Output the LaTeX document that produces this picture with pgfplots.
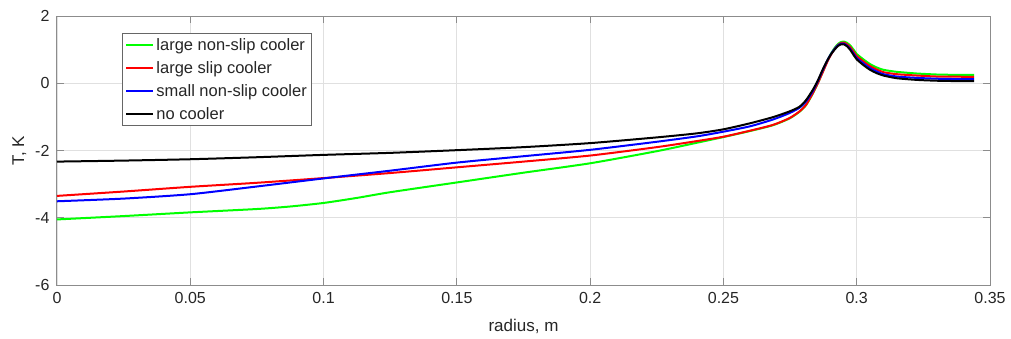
\documentclass[border=0pt]{standalone}
\usepackage{fontspec}
\setmainfont{Liberation Sans}
\usepackage{pgfplots}
\pgfplotsset{compat=1.18}
\begin{document}
\begin{tikzpicture}
\begin{axis}[
  scale only axis, width=933pt, height=269pt,
  xmin=0, xmax=0.35, ymin=-6, ymax=2,
  xtick={0,0.05,0.1,0.15,0.2,0.25,0.3,0.35},
  xticklabels={0,0.05,0.1,0.15,0.2,0.25,0.3,0.35},
  ytick={-6,-4,-2,0,2},
  yticklabels={-6,-4,-2,0,2},
  grid=major, major grid style={color=black!12, line width=0.8pt},
  tick align=inside, major tick length=7pt,
  axis line style={color=black!45, line width=1pt},
  tick style={color=black!45, line width=1pt},
  ticklabel style={font=\fontsize{16}{19}\selectfont, text=black!85},
  xticklabel style={yshift=-4pt},
  yticklabel style={xshift=-4pt},
  /pgf/number format/assume math mode=true,
  xlabel={radius, m}, ylabel={T, K},
  label style={font=\fontsize{17}{20}\selectfont, text=black!85},
  xlabel style={yshift=-8pt},
  ylabel style={yshift=2pt},
  legend style={at={(0.0697,0.937)}, anchor=north west, draw=black!60, line width=0.8pt,
    font=\fontsize{16.5}{19}\selectfont, text=black!85, inner sep=3pt, row sep=5.5pt},
  legend cell align=left,
  legend image code/.code={\draw[#1] (0pt,0pt) -- (27pt,0pt);},
  every axis plot/.append style={line width=2pt, smooth, tension=0.4, mark=none},
]
\addplot[color={rgb,1:red,0;green,1;blue,0}] coordinates {
(0,-4.05) (0.025,-3.95) (0.05,-3.84) (0.075,-3.74) (0.0875,-3.665) (0.1,-3.56)
(0.1125,-3.41) (0.125,-3.24) (0.15,-2.95) (0.175,-2.66) (0.2,-2.38) (0.225,-2.02)
(0.24,-1.77) (0.25,-1.60) (0.26,-1.42) (0.2685,-1.25) (0.2747,-1.05) (0.2785,-0.85)
(0.281,-0.65) (0.2835,-0.31) (0.2854,0.0) (0.2872,0.33) (0.2891,0.68) (0.2905,0.90)
(0.2918,1.06) (0.293,1.17) (0.2942,1.23) (0.2952,1.24) (0.2962,1.21) (0.2975,1.13)
(0.299,0.98) (0.3,0.87) (0.3025,0.71) (0.305,0.57) (0.3075,0.47) (0.31,0.40)
(0.315,0.34) (0.3225,0.29) (0.33,0.26) (0.337,0.25) (0.344,0.25)};
\addlegendentry{large non-slip cooler}
\addplot[color={rgb,1:red,1;green,0;blue,0}] coordinates {
(0,-3.35) (0.025,-3.22) (0.05,-3.08) (0.075,-2.96) (0.1,-2.82) (0.125,-2.67)
(0.15,-2.50) (0.175,-2.33) (0.2,-2.15) (0.225,-1.90) (0.24,-1.72) (0.25,-1.59)
(0.26,-1.41) (0.2685,-1.24) (0.2747,-1.04) (0.2785,-0.84) (0.281,-0.64) (0.2835,-0.30)
(0.2854,0.0) (0.2872,0.32) (0.2891,0.66) (0.2905,0.87) (0.2918,1.03) (0.293,1.14)
(0.2942,1.20) (0.2952,1.21) (0.2962,1.17) (0.2975,1.08) (0.299,0.92) (0.3,0.81)
(0.3025,0.65) (0.305,0.51) (0.3075,0.41) (0.31,0.33) (0.315,0.27) (0.3225,0.23)
(0.33,0.20) (0.337,0.195) (0.344,0.19)};
\addlegendentry{large slip cooler}
\addplot[color={rgb,1:red,0;green,0;blue,1}] coordinates {
(0,-3.51) (0.025,-3.43) (0.05,-3.30) (0.075,-3.07) (0.1,-2.83) (0.125,-2.60)
(0.15,-2.36) (0.175,-2.17) (0.2,-1.98) (0.225,-1.74) (0.24,-1.58) (0.25,-1.44)
(0.26,-1.28) (0.2685,-1.08) (0.2747,-0.89) (0.2785,-0.73) (0.281,-0.54) (0.2835,-0.24)
(0.2854,0.06) (0.2872,0.38) (0.2891,0.70) (0.2905,0.89) (0.2918,1.03) (0.293,1.13)
(0.2942,1.18) (0.2952,1.18) (0.2962,1.13) (0.2975,1.03) (0.299,0.86) (0.3,0.75)
(0.3025,0.59) (0.305,0.45) (0.3075,0.35) (0.31,0.27) (0.315,0.20) (0.3225,0.16)
(0.33,0.135) (0.337,0.125) (0.344,0.12)};
\addlegendentry{small non-slip cooler}
\addplot[color=black] coordinates {
(0,-2.33) (0.025,-2.30) (0.05,-2.26) (0.075,-2.20) (0.1,-2.13) (0.125,-2.07)
(0.15,-1.99) (0.175,-1.90) (0.2,-1.78) (0.225,-1.61) (0.24,-1.49) (0.25,-1.37)
(0.26,-1.19) (0.2685,-1.01) (0.2747,-0.84) (0.2785,-0.70) (0.281,-0.50) (0.2835,-0.20)
(0.2854,0.08) (0.2872,0.40) (0.2891,0.70) (0.2905,0.88) (0.2918,1.01) (0.293,1.11)
(0.2942,1.16) (0.2952,1.16) (0.2962,1.11) (0.2975,1.00) (0.299,0.82) (0.3,0.71)
(0.3025,0.54) (0.305,0.40) (0.3075,0.30) (0.31,0.23) (0.315,0.15) (0.3225,0.10)
(0.33,0.075) (0.337,0.065) (0.344,0.06)};
\addlegendentry{no cooler}
\end{axis}
\pgfresetboundingbox
\path (current axis.south west) ++(-57pt,-53pt) rectangle ++(1011pt,338pt);
\end{tikzpicture}
\end{document}
